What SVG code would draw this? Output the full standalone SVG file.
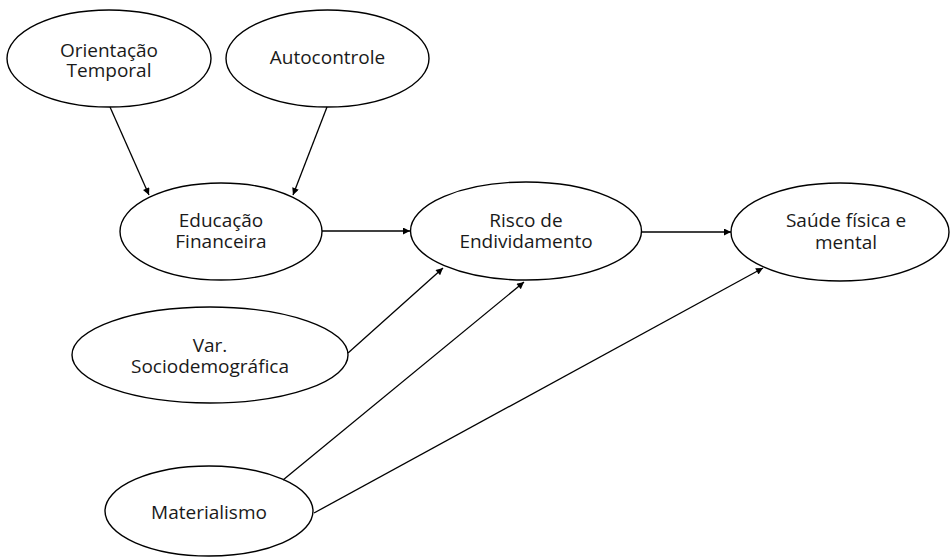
<svg xmlns="http://www.w3.org/2000/svg" width="951" height="559" viewBox="0 0 951 559">
<defs>
<marker id="ah" viewBox="0 0 10 10" refX="10" refY="5" markerWidth="10" markerHeight="7" markerUnits="userSpaceOnUse" orient="auto">
<path d="M0,0 L10,5 L0,10 z" fill="#000"/>
</marker>
<style>
.node ellipse{fill:#fff;stroke:#000;stroke-width:1.4}
.node text{font-family:"Open Sans","Liberation Sans",sans-serif;font-size:19px;fill:#1a1a1a;text-anchor:middle}
.edges line{stroke:#000;stroke-width:1.3;marker-end:url(#ah)}
</style>
</defs>
<rect width="951" height="559" fill="#fff"/>
<g class="node" id="orientacao">
<ellipse cx="109" cy="58.5" rx="102" ry="48.5"/>
<text x="109" y="57">Orientação</text>
<text x="109" y="77">Temporal</text>
</g>
<g class="node" id="autocontrole">
<ellipse cx="327.5" cy="58.5" rx="101.5" ry="48.5"/>
<text x="327.5" y="64">Autocontrole</text>
</g>
<g class="node" id="educacao">
<ellipse cx="221" cy="231.5" rx="101" ry="48.5"/>
<text x="221" y="227">Educação</text>
<text x="221" y="248">Financeira</text>
</g>
<g class="node" id="risco">
<ellipse cx="526" cy="231" rx="115.5" ry="49"/>
<text x="526" y="227">Risco de</text>
<text x="526" y="248">Endividamento</text>
</g>
<g class="node" id="saude">
<ellipse cx="840" cy="232" rx="109" ry="49"/>
<text x="846" y="227">Saúde física e</text>
<text x="846" y="249">mental</text>
</g>
<g class="node" id="sociodemografica">
<ellipse cx="210" cy="355" rx="138" ry="48"/>
<text x="210" y="352">Var.</text>
<text x="210" y="373">Sociodemográfica</text>
</g>
<g class="node" id="materialismo">
<ellipse cx="209" cy="511" rx="104" ry="45"/>
<text x="209" y="519">Materialismo</text>
</g>
<g class="edges" id="connectors">
<line x1="110" y1="107" x2="149" y2="195"/>
<line x1="327" y1="107" x2="293" y2="195"/>
<line x1="322" y1="231" x2="410" y2="231"/>
<line x1="642" y1="232" x2="731" y2="232"/>
<line x1="348" y1="353" x2="443" y2="268"/>
<line x1="283" y1="480" x2="524" y2="282"/>
<line x1="314" y1="513" x2="763" y2="268"/>
</g>
</svg>
